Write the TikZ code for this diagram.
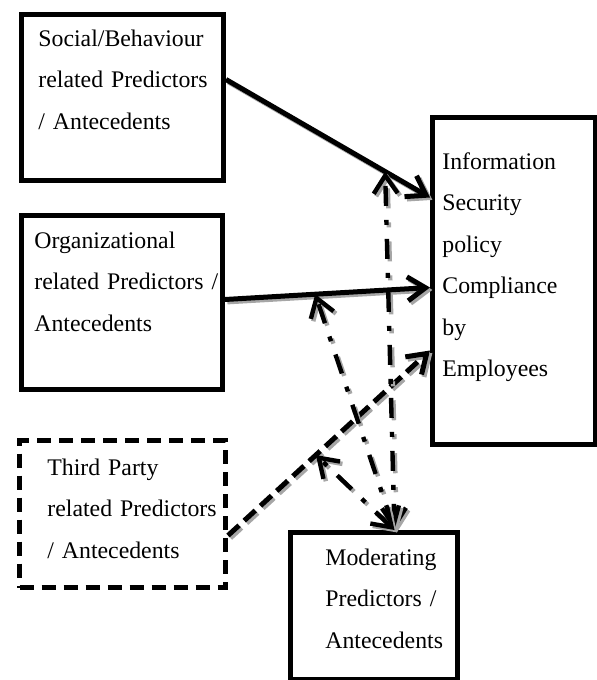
\documentclass[tikz,border=0pt]{standalone}
\usepackage{fontspec}
\setmainfont{Liberation Serif}
\usepackage{tikz}
\usetikzlibrary{positioning,arrows.meta}
\definecolor{shadowgray}{HTML}{A6A6A6}

\begin{document}
\begin{tikzpicture}[x=0.5pt,y=-0.5pt,
  box/.style={draw,line width=2.5pt,inner sep=0pt,anchor=north west},
  dbox/.style={box,dash pattern=on 7pt off 4pt},
  txt/.style={anchor=base west,inner sep=0pt,text width=110pt,align=left,
              font=\fontsize{11.9}{20.75}\selectfont},
  barb/.style={-{Straight Barb[length=9pt,width=12pt]}},
  bbarb/.style={{Straight Barb[length=9pt,width=12pt]}-{Straight Barb[length=9pt,width=12pt]}},
  shd/.style={preaction={draw=shadowgray,transform canvas={shift={(1.2pt,-1.2pt)}},#1}},
  fl/.style={barb,line width=2.5pt,shd={barb,line width=2.5pt}},
  dfl/.style={barb,line width=2.5pt,dash pattern=on 7.5pt off 3.5pt,
              shd={barb,line width=2.5pt,dash pattern=on 7.5pt off 3.5pt}},
  mfl/.style={bbarb,line width=2.2pt,dash pattern=on 10pt off 7pt on 2.5pt off 7pt,
              shd={bbarb,line width=2.2pt,dash pattern=on 10pt off 7pt on 2.5pt off 7pt}}]
\useasboundingbox (0,0) rectangle (596,680);
% boxes
\node[box,minimum width=101pt,minimum height=83pt] (social) at (19,12) {};
\node[box,minimum width=100.5pt,minimum height=87pt] (org) at (19,213) {};
\node[dbox,minimum width=103pt,minimum height=73.5pt] (third) at (17,438) {};
\node[box,minimum width=81.5pt,minimum height=163.5pt] (info) at (430,115) {};
\node[box,minimum width=83.5pt,minimum height=73.5pt] (mod) at (288,530) {};
% texts
\node[txt] (socialtxt) at (38,46.5) {Social/Behaviour\\related Predictors\\/ Antecedents};
\node[txt] (orgtxt) at (34,248) {Organizational\\related Predictors /\\Antecedents};
\node[txt] (thirdtxt) at (47,475) {Third Party\\related Predictors\\/ Antecedents};
\node[txt] (infotxt) at (442,169) {Information\\Security\\policy\\Compliance\\by\\Employees};
\node[txt] (modtxt) at (325,565) {Moderating\\Predictors /\\Antecedents};
% direct paths
\draw[fl] ([yshift=9pt]social.east) -- coordinate[pos=0.78] (hitsocial) ([yshift=41.75pt]info.west);
\draw[fl] ([yshift=1.5pt]org.east) -- coordinate[pos=0.44] (hitorg) ([yshift=-3.25pt]info.west);
\draw[dfl] ([yshift=-10.75pt]third.east) -- coordinate[pos=0.435] (hitthird) ([yshift=-34.75pt]info.west);
% moderating paths
\coordinate (modtop) at ([xshift=10.25pt]mod.north);
\draw[mfl] (modtop) -- (hitsocial);
\draw[mfl] (modtop) -- (hitorg);
\draw[mfl] (modtop) -- (hitthird);
\end{tikzpicture}
\end{document}
